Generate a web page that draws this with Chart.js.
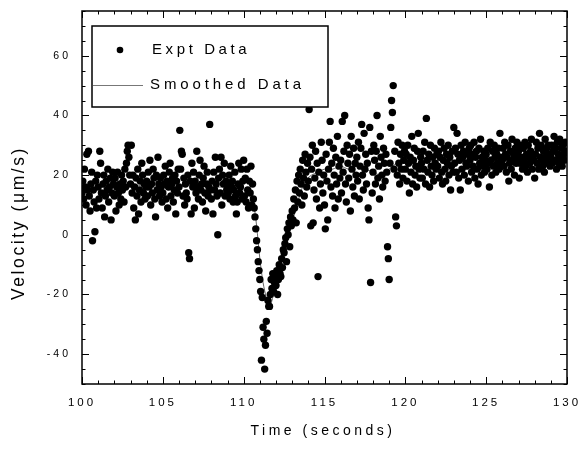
<!DOCTYPE html>
<html>
<head>
<meta charset="utf-8">
<script src="https://cdn.jsdelivr.net/npm/chart.js@4/dist/chart.umd.min.js"></script>
<style>
  html, body { margin: 0; padding: 0; background: #fff; }
  #c { display: block; }
</style>
</head>
<body>
<canvas id="c" width="580" height="450"></canvas>
<script>
// ---- Data ----
const exptTimeStart = 100;        // seconds, first sample
const exptSampleInterval = 0.05;  // seconds between samples
// Experimental velocity (µm/s), one row per second (100 ... 129)
const exptVelocity = [
  14,18,12,22,16,10,27,15,28,13,8,17,21,-2,15,11,1,18,9,20,
  16,12,28,24,14,9,17,20,6,13,18,15,22,11,16,19,5,14,21,17,
  13,19,8,16,21,14,10,17,12,20,15,18,11,22,16,24,28,30,26,20,
  17,30,14,20,9,16,5,19,13,22,7,15,18,11,24,20,14,17,12,16,
  18,13,21,16,25,10,17,14,22,19,12,6,20,15,26,17,13,19,16,11,
  14,20,17,23,12,18,9,16,21,24,13,17,19,11,15,20,7,18,14,22,
  16,35,22,28,27,13,19,10,17,14,12,20,-6,-8,18,7,24,16,21,9,
  18,14,28,16,12,20,25,15,17,11,19,23,14,8,17,21,13,16,37,15,
  12,18,7,21,15,26,17,13,0,19,22,14,26,10,20,17,24,13,18,15,
  17,14,20,12,23,16,18,11,15,21,13,7,11,17,24,14,16,22,12,18,
  25,13,19,11,22,15,9,18,14,23,10,17,12,9,6,2,-2,-5,-9,-12,
  -15,-19,-42,-21,-31,-35,-45,-37,-29,-33,-22,-24,-24,-20,-15,-18,-13,-19,-16,-14,
  -17,-12,-20,-15,-10,-13,-14,-8,-11,-5,-6,-3,-1,-9,2,0,4,-4,6,3,
  8,5,12,9,15,4,18,11,20,14,22,17,10,25,19,13,27,21,16,24,
  18,42,26,3,22,30,4,15,19,28,12,24,-14,21,9,17,31,25,14,20,
  10,2,27,18,5,22,31,38,16,24,13,29,20,9,26,17,33,12,23,19,
  25,14,38,21,28,40,17,11,30,24,19,27,8,33,22,16,29,13,24,20,
  26,18,31,12,23,29,37,20,15,34,22,27,17,24,9,5,36,-16,28,14,
  21,30,25,17,28,40,19,23,12,33,26,20,16,29,24,18,27,21,-4,-8,
  -15,24,36,45,41,50,22,28,6,3,20,31,24,17,27,22,30,19,25,28,
  22,27,18,30,24,14,26,21,33,17,25,29,20,23,16,28,34,22,19,26,
  24,19,28,22,31,17,39,25,21,27,16,30,23,20,26,18,29,24,22,27,
  23,28,19,26,31,21,17,25,29,22,18,27,24,30,20,26,15,23,28,21,
  36,24,29,21,34,27,19,25,15,30,22,26,28,20,31,24,23,27,18,29,
  25,30,21,27,23,31,19,26,28,22,17,29,24,32,20,26,23,28,21,25,
  27,22,29,24,16,31,25,20,28,23,30,26,21,27,24,29,22,34,26,23,
  25,29,23,31,27,21,26,30,18,24,28,22,32,25,27,20,29,24,31,26,
  28,19,24,30,26,22,29,25,31,23,27,21,30,26,24,28,32,22,27,25,
  19,27,31,24,29,22,34,26,30,25,23,28,21,32,26,29,24,30,27,23,
  26,30,24,28,33,25,29,22,31,27,24,32,26,29,23,30,27,25,31,28
];
// Smoothed curve
const smoothTime = [100,101,102,103,104,105,106,107,108,109,110,110.4,110.6,110.8,111.0,111.2,111.4,111.6,111.8,112.0,112.3,112.6,113.0,113.4,113.8,114.2,114.6,115,115.5,116,116.5,117,117.5,118,118.5,119,119.5,120,121,122,123,124,125,126,127,128,129,130];
const smoothVelocity = [15,16,16,17,16,16,16,17,16,16,15,14,11,3,-8,-16,-21,-24,-21,-16,-10,-4,4,12,18,20,21,22,22,23,22,23,22,21,20,22,24,24,24,25,25,25,26,26,26,27,27,27];
// Axis tick labels
const xTickValues = [100,105,110,115,120,125,130];
const yTickValues = [-40,-20,0,20,40,60];
const legendLabels = ['Expt Data', 'Smoothed Data'];
const xTitle = 'Time (seconds)';
const yTitle = 'Velocity (μm/s)';

// ---- Build datasets ----
const exptPoints = exptVelocity.map((v, i) => ({ x: exptTimeStart + i * exptSampleInterval, y: v }));
const smoothPoints = smoothTime.map((t, i) => ({ x: t, y: smoothVelocity[i] }));

const FONT = '"Liberation Sans", Arial, Helvetica, sans-serif';

const decorPlugin = {
  id: 'decor',
  beforeDraw(chart) {
    chart.ctx.letterSpacing = '3px';
  },
  afterDraw(chart) {
    const { ctx, chartArea: a, scales: { x, y } } = chart;
    ctx.save();
    ctx.letterSpacing = '0px';
    // frame
    ctx.strokeStyle = '#000';
    ctx.lineWidth = 1.5;
    ctx.strokeRect(a.left, a.top, a.right - a.left, a.bottom - a.top);
    // inward ticks on all four sides
    ctx.lineWidth = 1;
    ctx.beginPath();
    for (let v = x.min; v <= x.max + 1e-9; v += 1) {
      const px = Math.round(x.getPixelForValue(v)) + 0.5;
      const len = (v % 5 === 0) ? 7 : 3.5;
      ctx.moveTo(px, a.bottom); ctx.lineTo(px, a.bottom - len);
      ctx.moveTo(px, a.top); ctx.lineTo(px, a.top + len);
    }
    for (let v = y.min; v <= y.max + 1e-9; v += 5) {
      const py = Math.round(y.getPixelForValue(v)) + 0.5;
      const len = (v % 20 === 0) ? 7 : 3.5;
      ctx.moveTo(a.left, py); ctx.lineTo(a.left + len, py);
      ctx.moveTo(a.right, py); ctx.lineTo(a.right - len, py);
    }
    ctx.stroke();

    // legend box inside the plot
    const bx = a.left + 10, by = a.top + 15, bw = 236, bh = 81;
    ctx.fillStyle = '#fff';
    ctx.fillRect(bx, by, bw, bh);
    ctx.lineWidth = 1.5;
    ctx.strokeStyle = '#000';
    ctx.strokeRect(bx, by, bw, bh);
    // entry 1: dot
    ctx.fillStyle = '#000';
    ctx.beginPath();
    ctx.arc(bx + 28, by + 24, 3.3, 0, Math.PI * 2);
    ctx.fill();
    // entry 2: line
    ctx.strokeStyle = '#777';
    ctx.lineWidth = 1;
    ctx.beginPath();
    ctx.moveTo(bx + 1, by + 59.5);
    ctx.lineTo(bx + 51, by + 59.5);
    ctx.stroke();
    ctx.fillStyle = '#000';
    ctx.font = '15px ' + FONT;
    ctx.textBaseline = 'middle';
    ctx.textAlign = 'left';
    ctx.letterSpacing = '3.6px';
    ctx.fillText(legendLabels[0], bx + 60, by + 24);
    ctx.letterSpacing = '3.9px';
    ctx.fillText(legendLabels[1], bx + 58, by + 59);

    // axis titles
    ctx.font = '14px ' + FONT;
    ctx.letterSpacing = '3.5px';
    ctx.textAlign = 'center';
    ctx.fillText(xTitle, 323, 431);
    ctx.save();
    ctx.translate(19, 223);
    ctx.rotate(-Math.PI / 2);
    ctx.font = '17.5px ' + FONT;
    ctx.letterSpacing = '2.6px';
    ctx.fillText(yTitle, 0, 0);
    ctx.restore();
    ctx.restore();
  }
};

new Chart(document.getElementById('c'), {
  type: 'scatter',
  data: {
    datasets: [
      {
        label: legendLabels[1],
        data: smoothPoints,
        showLine: true,
        borderColor: '#666',
        borderWidth: 1,
        pointRadius: 0,
        tension: 0.3,
        order: 2
      },
      {
        label: legendLabels[0],
        data: exptPoints,
        backgroundColor: '#000',
        borderColor: '#000',
        borderWidth: 0,
        pointRadius: 3.7,
        order: 1
      }
    ]
  },
  options: {
    responsive: false,
    animation: false,
    events: [],
    layout: { padding: { left: 0, right: 13, top: 11, bottom: 0 } },
    plugins: { legend: { display: false }, tooltip: { enabled: false } },
    scales: {
      x: {
        type: 'linear',
        min: 100, max: 130,
        grid: { display: false, drawTicks: false },
        border: { display: false },
        afterBuildTicks: s => { s.ticks = xTickValues.map(v => ({ value: v })); },
        afterFit: s => { s.height = 66; s.paddingLeft = 0; s.paddingRight = 0; },
        ticks: { color: '#000', padding: 12, maxRotation: 0, autoSkip: false, font: { family: FONT, size: 11.5 } }
      },
      y: {
        type: 'linear',
        min: -50, max: 75,
        grid: { display: false, drawTicks: false },
        border: { display: false },
        afterBuildTicks: s => { s.ticks = yTickValues.map(v => ({ value: v })); },
        afterFit: s => { s.width = 82; s.paddingTop = 0; s.paddingBottom = 0; },
        ticks: { color: '#000', padding: 11, autoSkip: false, font: { family: FONT, size: 10.5 } }
      }
    }
  },
  plugins: [decorPlugin]
});
</script>
</body>
</html>
